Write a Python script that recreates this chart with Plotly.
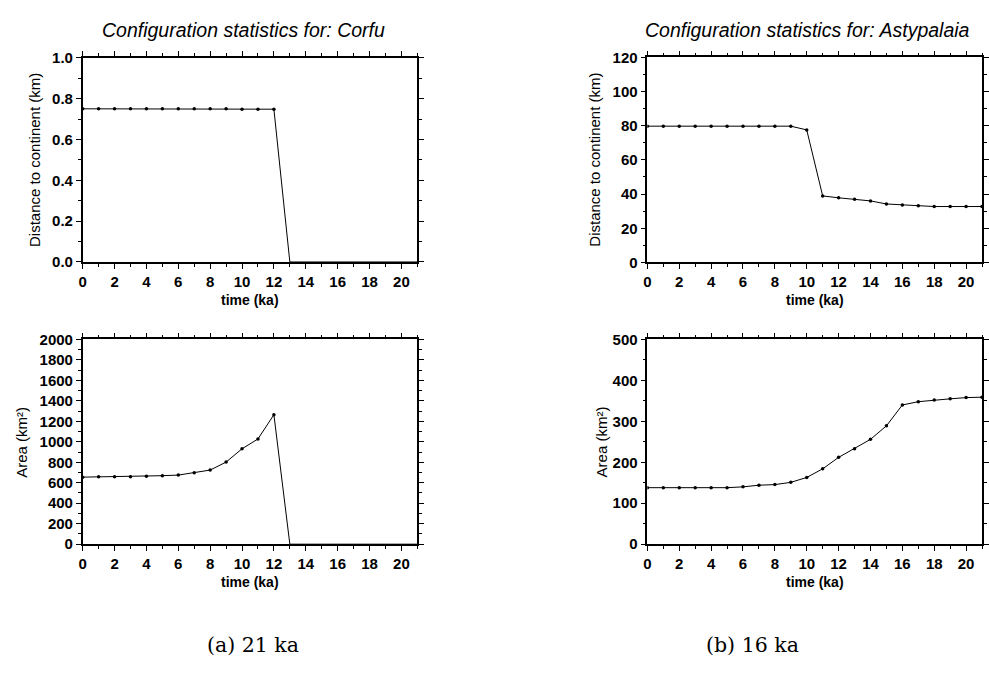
import plotly.graph_objects as go

time_ka = list(range(0, 22))

corfu_distance = [0.75, 0.75, 0.75, 0.75, 0.75, 0.75, 0.75, 0.75, 0.75, 0.75,
                  0.748, 0.748, 0.748, 0, 0, 0, 0, 0, 0, 0, 0, 0]
corfu_area = [655, 658, 658, 658, 663, 669, 675, 698, 724, 802, 932, 1028, 1265,
              0, 0, 0, 0, 0, 0, 0, 0, 0]
asty_distance = [79.7, 79.7, 79.7, 79.7, 79.7, 79.7, 79.7, 79.7, 79.7, 79.7, 77.5,
                 38.9, 37.8, 37.0, 36.0, 34.2, 33.6, 33.2, 32.7, 32.7, 32.7, 32.7]
asty_area = [138, 138, 138, 138, 138, 138, 140, 144, 145.5, 151, 163, 184, 212,
             233, 256, 289, 340, 348, 352, 355, 358, 359]

titles = ["Configuration statistics for: Corfu", "Configuration statistics for: Astypalaia"]
captions = ["(a) 21 ka", "(b) 16 ka"]
x_title = "time (ka)"
y_titles = ["Distance to continent (km)", "Area (km²)"]

W, H = 989, 675
FONT = "Liberation Sans"

def px(x):
    return x / W

def py(y):
    return 1 - y / H

# panel boxes in pixels: (left, right, top, bottom)
panels = [
    (79, 415, 50, 259.5),   # top-left
    (646, 982, 49.5, 260),  # top-right
    (79, 415, 339, 549),    # bottom-left
    (646, 982, 339, 549),   # bottom-right
]
series = [corfu_distance, asty_distance, corfu_area, asty_area]
yranges = [(0, 1.0, 0.2, 0.1), (0, 120, 20, 10), (0, 2000, 200, 100), (0, 500, 100, 50)]

fig = go.Figure()
layout = dict(
    width=W, height=H,
    margin=dict(l=0, r=0, t=0, b=0),
    paper_bgcolor="white", plot_bgcolor="white",
    showlegend=False,
    font=dict(family=FONT, color="black"),
)

for i, (box, ys, yr) in enumerate(zip(panels, series, yranges)):
    n = "" if i == 0 else str(i + 1)
    l, r, t, b = box
    # markers lying on the x axis are hidden under the axis line in the original
    mcolor = ["rgba(0,0,0,0)" if v == 0 else "black" for v in ys]
    fig.add_trace(go.Scatter(
        x=time_ka, y=ys, mode="lines+markers",
        line=dict(color="black", width=1),
        marker=dict(color=mcolor, size=3.5, line=dict(width=0)),
        xaxis="x" + n, yaxis="y" + n, cliponaxis=True,
    ))
    common = dict(
        showgrid=False, zeroline=False, showline=True, linecolor="black", linewidth=1.5,
        mirror="allticks", ticks="outside", ticklen=5, tickwidth=1.3, tickcolor="black",
        tickfont=dict(family=FONT, size=15, color="black", weight="bold"),
        layer="above traces",
    )
    layout["xaxis" + n] = dict(
        common, domain=[px(l), px(r)], range=[0, 21], anchor="y" + n,
        tickmode="linear", tick0=0, dtick=2,
        minor=dict(ticks="outside", ticklen=3, tickwidth=1.2, tickcolor="black", dtick=1, tick0=0, showgrid=False),
    )
    layout["yaxis" + n] = dict(
        common, domain=[py(b), py(t)], range=[yr[0], yr[1]], anchor="x" + n,
        tickmode="linear", tick0=0, dtick=yr[2],
        tickformat=".1f" if i == 0 else "d",
        minor=dict(ticks="outside", ticklen=3, tickwidth=1.2, tickcolor="black", dtick=yr[3], tick0=0, showgrid=False),
    )

fig.update_layout(**layout)

ann = []
# titles
ann.append(dict(x=px(240), y=py(22), text=titles[0]))
ann.append(dict(x=px(807), y=py(22), text=titles[1]))
for a in ann[-2:]:
    a.update(font=dict(family=FONT, size=19.5, style="italic", color="black"))
# x titles
for (l, r, t, b) in panels:
    ann.append(dict(x=px((l + r) / 2), y=py(b + 39), text=x_title,
                    font=dict(family=FONT, size=14, weight="bold", color="black")))
# y titles
ytpos = [(30, 155, 0), (592, 155, 0), (18, 444, 1), (600, 444, 1)]
for (xx, yy, k) in ytpos:
    ann.append(dict(x=px(xx), y=py(yy), text=y_titles[k], textangle=-90,
                    font=dict(family=FONT, size=15, color="black")))
# captions
ann.append(dict(x=px(250), y=py(652), text=captions[0],
                font=dict(family="DejaVu Serif", size=20.5, color="black")))
ann.append(dict(x=px(752), y=py(652), text=captions[1],
                font=dict(family="DejaVu Serif", size=20.5, color="black")))
for a in ann:
    a.update(xref="paper", yref="paper", showarrow=False, xanchor="center", yanchor="middle")
fig.update_layout(annotations=ann)

fig.write_html("out.html")
